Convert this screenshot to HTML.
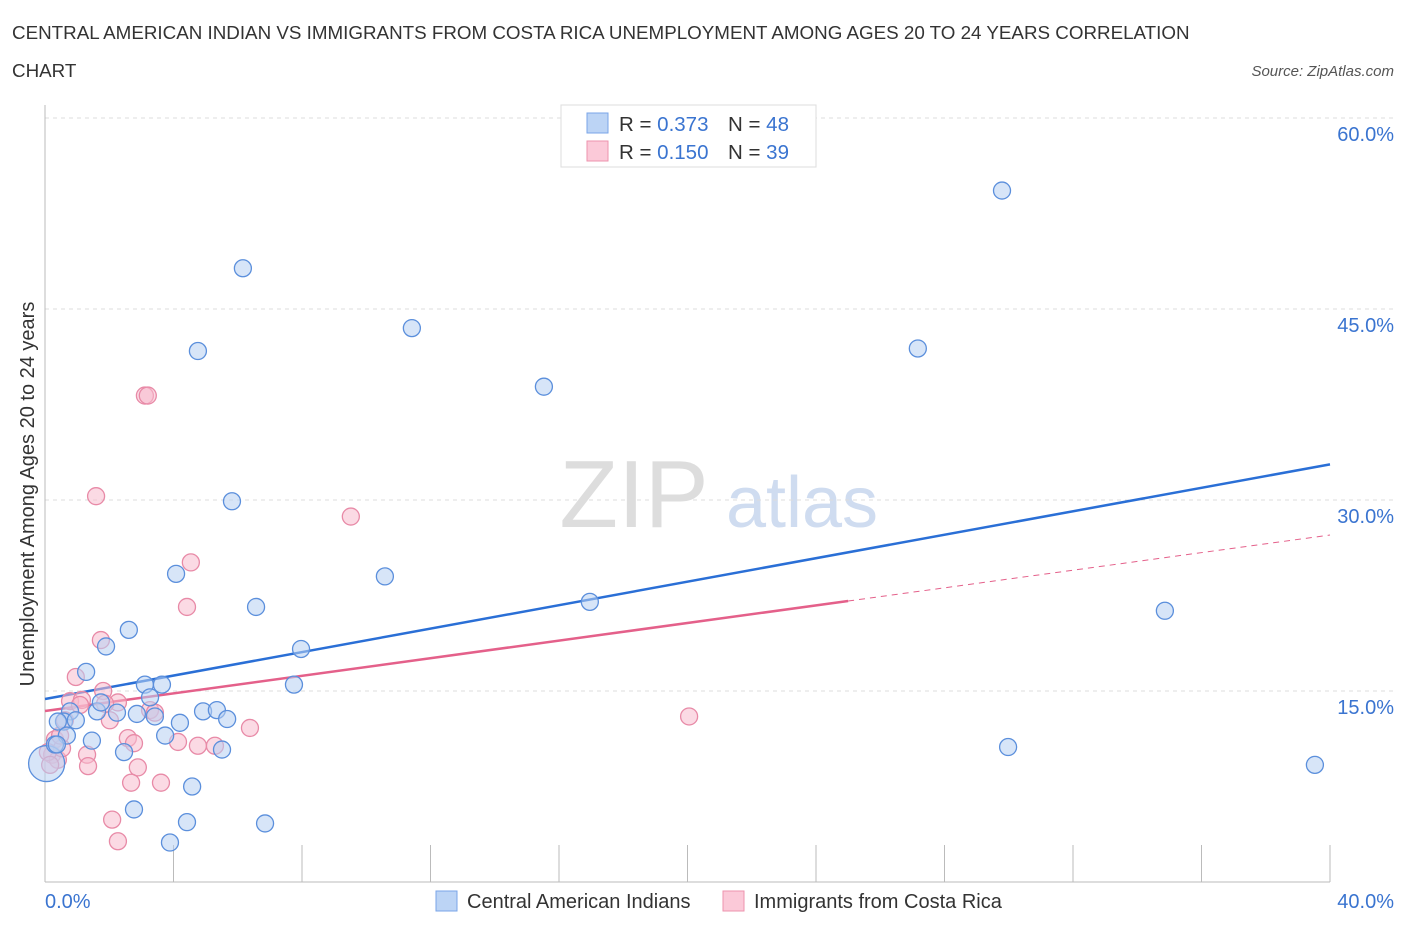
<!DOCTYPE html>
<html><head><meta charset="utf-8"><style>
body{margin:0;background:#fff;font-family:"Liberation Sans",sans-serif;}
svg text{font-family:"Liberation Sans",sans-serif;}
</style></head><body>
<svg id="chart" width="1406" height="930" xmlns="http://www.w3.org/2000/svg">
<text x="12" y="39" font-size="18.8" fill="#333">CENTRAL AMERICAN INDIAN VS IMMIGRANTS FROM COSTA RICA UNEMPLOYMENT AMONG AGES 20 TO 24 YEARS CORRELATION</text>
<text x="12" y="77" font-size="18.8" fill="#333">CHART</text>
<text x="1394" y="76" font-size="15" fill="#555" font-style="italic" text-anchor="end">Source: ZipAtlas.com</text>
<text x="634" y="527" font-size="96" fill="#ddd" text-anchor="middle" font-family="Liberation Serif">ZIP</text>
<text x="802" y="527" font-size="72" fill="#cfdcf0" text-anchor="middle">atlas</text>
<g id="grid"></g>
<line x1="45" y1="105" x2="45" y2="882" stroke="#bbb"/>
<line x1="45" y1="882" x2="1330" y2="882" stroke="#bbb"/>
<text transform="translate(34,494) rotate(-90)" font-size="20" fill="#333" text-anchor="middle">Unemployment Among Ages 20 to 24 years</text>
<text x="45" y="908" font-size="20" fill="#3a74d0">0.0%</text>
<text x="1394" y="908" font-size="20" fill="#3a74d0" text-anchor="end">40.0%</text>
<g id="lines"></g>
<g id="pts"></g>
<g>
<rect x="561" y="105" width="255" height="62" fill="#fff" stroke="#ddd"/>
<rect x="587" y="113" width="21" height="20" fill="#bcd4f5" stroke="#7aa5e8"/>
<rect x="587" y="141" width="21" height="20" fill="#fbc9d8" stroke="#ee93ae"/>
<text x="619" y="131" font-size="20.5" fill="#333">R = <tspan fill="#3a74d0">0.373</tspan><tspan x="728">N = </tspan><tspan fill="#3a74d0">48</tspan></text>
<text x="619" y="159" font-size="20.5" fill="#333">R = <tspan fill="#3a74d0">0.150</tspan><tspan x="728">N = </tspan><tspan fill="#3a74d0">39</tspan></text>
</g>
<g>
<rect x="436" y="891" width="21" height="20" fill="#bcd4f5" stroke="#7aa5e8"/>
<text x="467" y="908" font-size="20" fill="#333">Central American Indians</text>
<rect x="723" y="891" width="21" height="20" fill="#fbc9d8" stroke="#ee93ae"/>
<text x="754" y="908" font-size="20" fill="#333">Immigrants from Costa Rica</text>
</g>
</svg>
<script>
const yTicks=[15,30,45,60];
const yTickLabels=["15.0%","30.0%","45.0%","60.0%"];
const xTicks=[0,4,8,12,16,20,24,28,32,36,40];
const blueX=[6.16,4.76,29.79,11.42,15.53,27.17,5.82,4.08,10.58,6.57,16.96,34.86,2.61,1.90,1.28,7.97,7.75,3.11,3.64,3.27,1.62,2.24,2.86,3.42,4.20,4.92,5.35,5.67,0.78,0.59,0.40,0.68,1.46,3.74,2.46,5.51,29.98,39.53,4.58,2.77,4.42,6.85,3.89,0.05,0.31,1.74,0.37,0.96];
const blueY=[48.2,41.7,54.3,43.5,38.9,41.9,29.9,24.2,24.0,21.6,22.0,21.3,19.8,18.5,16.5,18.3,15.5,15.5,15.5,14.5,13.4,13.3,13.2,13.0,12.5,13.4,13.5,12.8,13.4,12.6,12.6,11.5,11.1,11.5,10.2,10.4,10.6,9.2,7.5,5.7,4.7,4.6,3.1,9.3,10.8,14.1,10.8,12.7];
const pinkX=[3.11,3.2,1.59,9.52,4.54,4.42,1.74,0.96,1.81,0.78,1.15,2.27,3.27,2.02,20.05,6.38,2.58,2.77,4.14,4.76,5.29,1.31,1.34,2.89,2.68,3.61,2.09,2.27,0.31,0.22,0.40,0.09,0.53,0.16,1.09,0.62,1.87,0.47,3.42];
const pinkY=[38.2,38.2,30.3,28.7,25.1,21.6,19.0,16.1,15.0,14.2,14.3,14.1,13.5,12.7,13.0,12.1,11.3,10.9,11.0,10.7,10.7,10.0,9.1,9.0,7.8,7.8,4.9,3.2,11.2,10.0,9.6,10.2,10.5,9.2,13.9,12.7,14.0,11.5,13.3];
const blueTrend=[14.37,32.8];
const pinkTrend=[13.43,27.25];
const pinkSolidEnd=25;
const NS="http://www.w3.org/2000/svg";
const sx=v=>45+v/40*1285;
const sy=v=>882-v/15*191;
function mk(t,a,p){const e=document.createElementNS(NS,t);for(const k in a)e.setAttribute(k,a[k]);p.appendChild(e);return e;}
const grid=document.getElementById('grid');
yTicks.forEach((t,i)=>{
 const l=mk('line',{x1:45,x2:1394,y1:sy(t),y2:sy(t),stroke:'#ddd','stroke-dasharray':'4,4'},grid);
 
 
 const tx=mk('text',{x:1394,y:sy(t)+23,'font-size':20,fill:'#3a74d0','text-anchor':'end'},grid);
 tx.textContent=yTickLabels[i];
 
 
});
mk('line',{x1:45,x2:1394,y1:118,y2:118,stroke:'#ddd','stroke-dasharray':'4,4'},grid);
xTicks.forEach(t=>{
 const l=mk('line',{x1:sx(t),x2:sx(t),y1:845,y2:882,stroke:'#bbb'},grid);
 
 
});
const pts=document.getElementById('pts');
function dots(X,Y,fill,stroke,name){X.forEach((x,i)=>{
 const big=(i===43&&name==='blue-point');
 const c=mk('circle',{cx:sx(x),cy:sy(Y[i]),r:big?18:8.5,fill:fill,'fill-opacity':0.55,stroke:stroke,'stroke-width':1.3},pts);
 
 
});}
dots(pinkX,pinkY,'#f8bccd','#e88aa7','pink-point');
dots(blueX,blueY,'#b7d0f3','#5b8fdc','blue-point');
const lines=document.getElementById('lines');
const bl=mk('line',{x1:sx(0),y1:sy(blueTrend[0]),x2:sx(40),y2:sy(blueTrend[1]),stroke:'#2a6fd6','stroke-width':2.5},lines);


const pm=(pinkTrend[1]-pinkTrend[0])/40;
const pl=mk('line',{x1:sx(0),y1:sy(pinkTrend[0]),x2:sx(pinkSolidEnd),y2:sy(pinkTrend[0]+pm*pinkSolidEnd),stroke:'#e4608a','stroke-width':2.5},lines);


const pd=mk('line',{x1:sx(pinkSolidEnd),y1:sy(pinkTrend[0]+pm*pinkSolidEnd),x2:sx(40),y2:sy(pinkTrend[1]),stroke:'#e4608a','stroke-width':1,'stroke-dasharray':'6,5'},lines);


</script>
</body></html>
